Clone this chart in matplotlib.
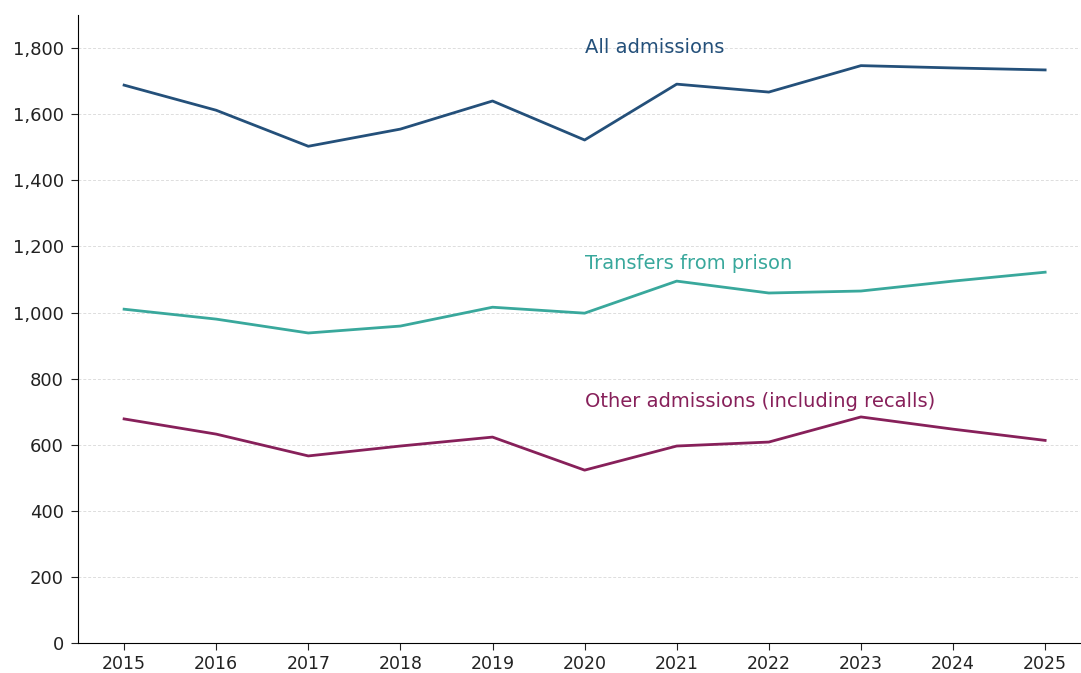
import matplotlib
matplotlib.use("Agg")
import matplotlib.pyplot as plt
from matplotlib.ticker import FuncFormatter

# ----- Data
years = [2015, 2016, 2017, 2018, 2019, 2020, 2021, 2022, 2023, 2024, 2025]
all_admissions = [1688, 1612, 1503, 1555, 1640, 1522, 1691, 1667, 1747, 1740, 1734]
transfers_from_prison = [1010, 980, 938, 959, 1016, 998, 1095, 1059, 1065, 1095, 1122]
other_admissions = [678, 632, 566, 596, 623, 523, 596, 608, 684, 647, 613]

series_labels = ['All admissions', 'Transfers from prison', 'Other admissions (including recalls)']
label_y = [1803, 1148, 730]

colors = ['#24507a', '#39a89c', '#87205a']

fig = plt.figure(figsize=(10.81, 6.73), dpi=100)
ax = fig.add_axes([0.0722, 0.0446, 0.927, 0.933])

for values, color in zip([all_admissions, transfers_from_prison, other_admissions], colors):
    ax.plot(years, values, color=color, linewidth=2)

# Inline labels instead of a legend
for text, y, color in zip(series_labels, label_y, colors):
    ax.text(2020, y, text, color=color, fontsize=14, va='center', ha='left')

ax.set_xlim(2014.5, 2025.38)
ax.set_ylim(0, 1900)
ax.set_xticks(years)
ax.set_yticks(range(0, 1801, 200))
ax.yaxis.set_major_formatter(FuncFormatter(lambda v, p: f'{int(v):,}'))
ax.tick_params(labelsize=13, colors='#222222', length=4.8)
ax.tick_params(axis='y', pad=5.5)
ax.tick_params(axis='x', pad=3.5, labelsize=12.5)

ax.grid(axis='y', linestyle=(0, (3, 2)), color='#dddddd', linewidth=0.7)
ax.set_axisbelow(True)
ax.spines['top'].set_visible(False)
ax.spines['right'].set_visible(False)

fig.savefig('out.png', dpi=100)
